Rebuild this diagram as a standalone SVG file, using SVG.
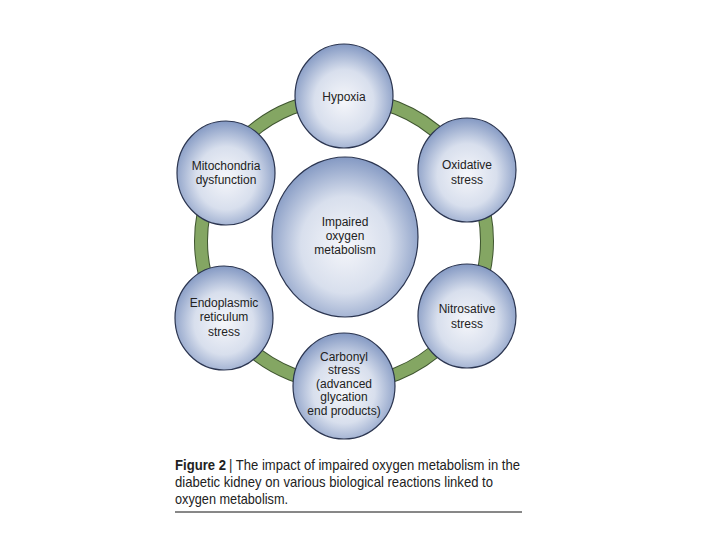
<svg xmlns="http://www.w3.org/2000/svg" width="720" height="540" viewBox="0 0 720 540">
<style>
.node{fill:url(#g);stroke:#2b3550;stroke-width:1.2}
.t{font-family:"Liberation Sans",Arial,sans-serif;font-size:12px;fill:#222;text-anchor:middle}
.c{font-family:"Liberation Sans",Arial,sans-serif;font-size:14.5px;fill:#222}
</style>
<defs>
<radialGradient id="g" cx="50%" cy="55%" r="55%">
<stop offset="0" stop-color="#f5f6fa"/>
<stop offset="0.55" stop-color="#d8dfed"/>
<stop offset="1" stop-color="#8499c3"/>
</radialGradient>
</defs>
<rect width="720" height="540" fill="#fff"/>
<g id="connectors">
<circle cx="344" cy="241" r="143" fill="none" stroke="#3f5530" stroke-width="14"/>
<circle cx="344" cy="241" r="143" fill="none" stroke="#84a663" stroke-width="12"/>
</g>
<g id="hypoxia"><ellipse class="node" cx="344" cy="96" rx="49" ry="52"/><text class="t" x="344" y="101">Hypoxia</text></g>
<g id="mitochondria"><ellipse class="node" cx="226" cy="173" rx="49" ry="52"/><text class="t" x="226" y="170">Mitochondria</text><text class="t" x="226" y="184">dysfunction</text></g>
<g id="oxidative"><ellipse class="node" cx="467" cy="170" rx="49" ry="52"/><text class="t" x="467" y="169">Oxidative</text><text class="t" x="467" y="184">stress</text></g>
<g id="nitrosative"><ellipse class="node" cx="467" cy="316" rx="49" ry="52"/><text class="t" x="467" y="313">Nitrosative</text><text class="t" x="467" y="328">stress</text></g>
<g id="endoplasmic"><ellipse class="node" cx="224" cy="318" rx="49" ry="52"/><text class="t" x="224" y="307">Endoplasmic</text><text class="t" x="224" y="321">reticulum</text><text class="t" x="224" y="336">stress</text></g>
<g id="carbonyl"><ellipse class="node" cx="344" cy="386" rx="51" ry="53"/><text class="t" x="344" y="361">Carbonyl</text><text class="t" x="344" y="374">stress</text><text class="t" x="344" y="388">(advanced</text><text class="t" x="344" y="401">glycation</text><text class="t" x="344" y="415">end products)</text></g>
<g id="impaired"><ellipse class="node" cx="345" cy="237" rx="73" ry="80"/><text class="t" x="345" y="226">Impaired</text><text class="t" x="345" y="240">oxygen</text><text class="t" x="345" y="254">metabolism</text></g>
<g id="caption">
<text class="c" x="175" y="470" font-weight="bold" textLength="51" lengthAdjust="spacingAndGlyphs">Figure 2</text>
<text class="c" x="229" y="470" textLength="291" lengthAdjust="spacingAndGlyphs">| The impact of impaired oxygen metabolism in the</text>
<text class="c" x="175" y="487" textLength="318" lengthAdjust="spacingAndGlyphs">diabetic kidney on various biological reactions linked to</text>
<text class="c" x="175" y="504" textLength="113" lengthAdjust="spacingAndGlyphs">oxygen metabolism.</text>
<line x1="175" y1="512" x2="522" y2="512" stroke="#111" stroke-width="1"/>
</g>
</svg>
